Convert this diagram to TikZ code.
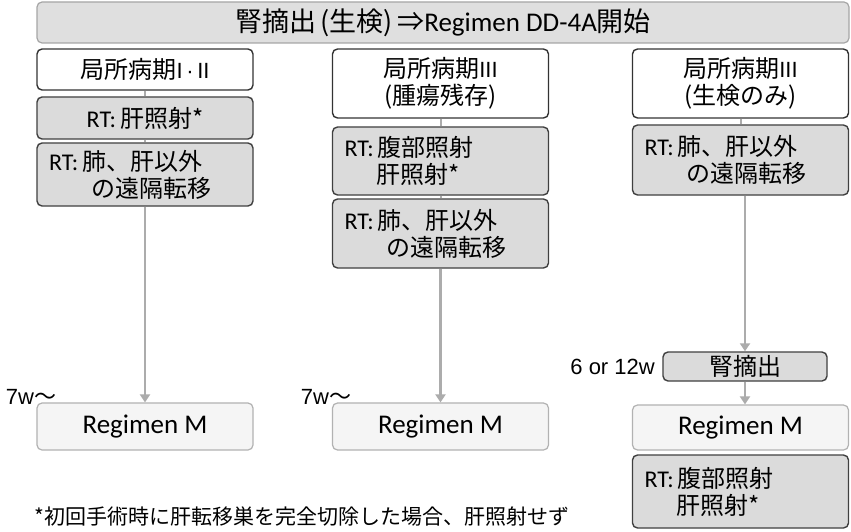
\documentclass[tikz,border=0pt]{standalone}
\usepackage{fontspec}
\setmainfont{Carlito}
\newfontfamily\jp{Noto Sans CJK JP}
\newfontfamily\arial{Liberation Sans}
\usetikzlibrary{arrows.meta}
\newcommand{\rn}[1]{{\arial\fontsize{22}{25}\selectfont #1}}

\begin{document}
\begin{tikzpicture}[x=1pt, y=-1pt,
    base/.style={rounded corners=5pt, minimum width=216pt, inner sep=0pt,
                 font=\fontsize{24}{27}\selectfont, align=center},
    stage/.style={base, draw=black!80, line width=1.4pt, fill=white},
    rtbox/.style={base, draw=black!75, line width=1.4pt, fill=gray!28,
                  text width=192pt, align=left},
    rtone/.style={base, draw=black!75, line width=1.4pt, fill=gray!28},
    regbox/.style={base, draw=gray!60, line width=1.2pt, fill=gray!8,
                   font=\fontsize{27}{30}\selectfont},
    lnk/.style={draw=gray!65, line width=2pt},
    arr/.style={draw=gray!65, line width=2.6pt,
                -{Triangle[width=10pt,length=8pt]}},
    wlab/.style={font=\arial\fontsize{22}{25}\selectfont, inner sep=0pt}
]
\useasboundingbox[fill=white] (0,0) rectangle (851,532);

% header
\node[base, draw=gray!70, line width=1.2pt, fill=gray!25, minimum width=812pt,
      minimum height=41pt, font=\fontsize{27}{30}\selectfont] (head) at (443,22.5)
      {{\jp 腎摘出\,(生検)\,⇒}Regimen DD-4A{\jp 開始}};

% stage I/II
\node[stage, minimum height=41pt] (st1) at (145,69.5)
      {{\jp 局所病期}\rn{I\,·\,II}};
\node[rtone, minimum height=42pt] (rt1a) at (145,118) {RT:\,{\jp 肝照射*}};
\node[rtbox, minimum height=63pt] (rt1b) at (145,174.5)
      {RT:\,{\jp 肺、肝以外}\\\hspace*{1.75em}{\jp の遠隔転移}};
\node[regbox, minimum height=47pt] (reg1) at (145,426.5) {Regimen M};
\draw[lnk] (st1) -- (rt1a);
\draw[lnk] (rt1a) -- (rt1b);
\draw[arr] (rt1b) -- (reg1);
\node[wlab] (w1) at (31,397) {7w{\jp 〜}};

% stage III, residual tumour
\node[stage, minimum height=69pt] (st2) at (440.5,83.5)
      {{\jp 局所病期}\rn{III}\\{\jp (腫瘍残存)}};
\node[rtbox, minimum height=68pt] (rt2a) at (440.5,161)
      {RT:\,{\jp 腹部照射}\\\hspace*{1.35em}{\jp 肝照射*}};
\node[rtbox, minimum height=69pt] (rt2b) at (440.5,233.5)
      {RT:\,{\jp 肺、肝以外}\\\hspace*{1.75em}{\jp の遠隔転移}};
\node[regbox, minimum height=47pt] (reg2) at (440.5,426.5) {Regimen M};
\draw[lnk] (st2) -- (rt2a);
\draw[lnk] (rt2a) -- (rt2b);
\draw[arr] (rt2b) -- (reg2);
\node[wlab] (w2) at (326,397) {7w{\jp 〜}};

% stage III, biopsy only
\node[stage, minimum height=69pt] (st3) at (740.5,83.5)
      {{\jp 局所病期}\rn{III}\\{\jp (生検のみ)}};
\node[rtbox, minimum height=70pt] (rt3a) at (740.5,160)
      {RT:\,{\jp 肺、肝以外}\\\hspace*{1.75em}{\jp の遠隔転移}};
\node[rtone, minimum width=164pt, minimum height=29pt] (neph) at (745,366.5)
      {\jp 腎摘出};
\node[regbox, minimum height=45pt] (reg3) at (740.5,427.5) {Regimen M};
\node[rtbox, minimum height=73pt] (rt3b) at (740.5,491.5)
      {RT:\,{\jp 腹部照射}\\\hspace*{1.35em}{\jp 肝照射*}};
\draw[lnk] (st3) -- (rt3a);
\draw[arr] (rt3a.south -| neph) -- (neph);
\draw[arr] (neph) -- (reg3.north -| neph);
\node[wlab, anchor=east] (w3) at (655,367) {6 or 12w};

% footnote
\node[anchor=west, inner sep=0pt, font=\jp\fontsize{21}{25}\selectfont] (note)
      at (34,517) {*初回手術時に肝転移巣を完全切除した場合、肝照射せず};
\end{tikzpicture}
\end{document}
